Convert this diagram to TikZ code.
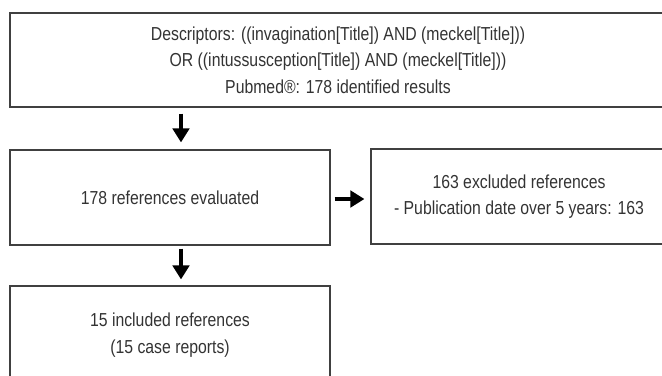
\documentclass[tikz,border=0pt]{standalone}
\usepackage{fontspec}
\setmainfont{Liberation Sans}[FakeStretch=0.84]
\usetikzlibrary{arrows.meta}
\definecolor{txt}{HTML}{333333}
\definecolor{edge}{HTML}{404040}
\tikzset{
  box/.style={draw=edge, line width=1.2bp, rectangle, align=center, inner sep=0pt,
    text=txt, font=\fontsize{18.8bp}{26.5bp}\selectfont},
  arr/.style={draw=black, line width=3.3bp,
    -{Triangle[length=14bp,width=16.5bp]}}
}
\begin{document}
\begin{tikzpicture}[x=1bp,y=-1bp]
\useasboundingbox (0,0) rectangle (662,375);
\clip (0,0) rectangle (662,375);
\node[box, minimum width=656bp, minimum height=94bp] (top) at (338,60)
  {Descriptors: ((invagination[Title]) AND (meckel[Title]))\\
   OR ((intussusception[Title]) AND (meckel[Title]))\\
   Pubmed®: 178 identified results};
\node[box, minimum width=320bp, minimum height=95bp] (eval) at (170,197.5)
  {178 references evaluated};
\node[box, minimum width=296bp, minimum height=95bp] (excl) at (519,196.5)
  {163 excluded references\\
   - Publication date over 5 years: 163};
\node[box, minimum width=320bp, minimum height=98bp] (incl) at (170,335)
  {15 included references\\
   (15 case reports)};
\draw[arr, shorten <=6bp, shorten >=7bp]
  ([xshift=11bp]eval.north |- top.south) -- ([xshift=11bp]eval.north);
\draw[arr, shorten <=4bp, shorten >=6bp]
  ([yshift=-1.5bp]eval.east) -- ([yshift=-1.5bp]eval.east -| excl.west);
\draw[arr, shorten <=3bp, shorten >=6bp]
  ([xshift=11bp]eval.south) -- ([xshift=11bp]incl.north);
\end{tikzpicture}
\end{document}
